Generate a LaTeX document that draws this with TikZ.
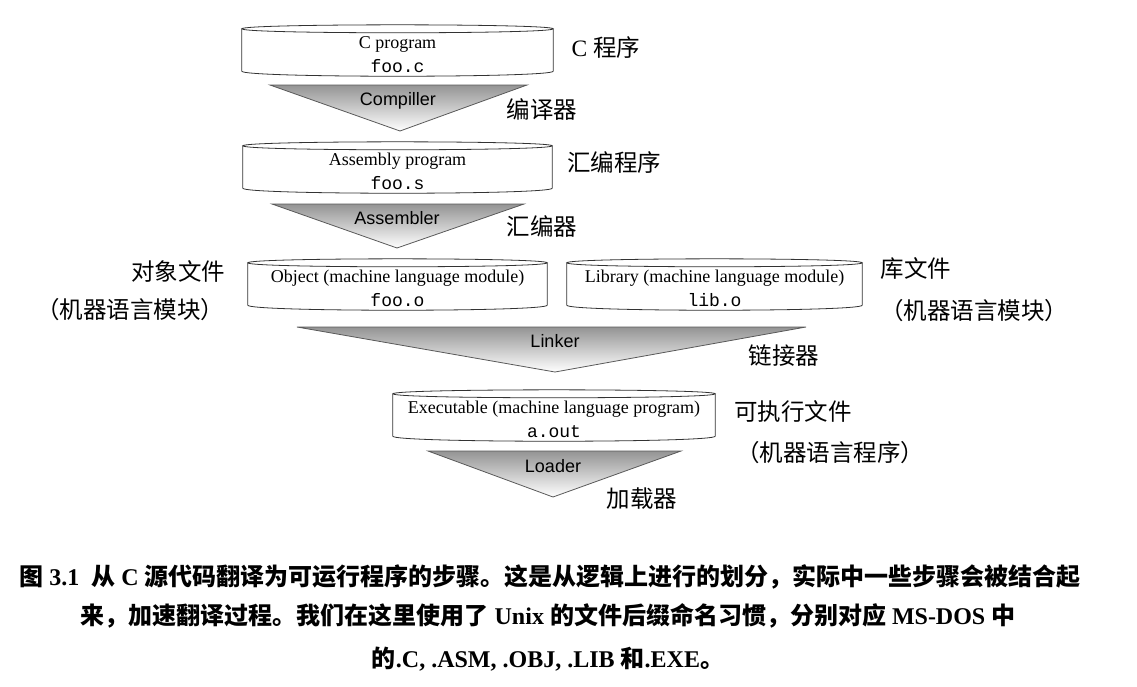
\documentclass[tikz,border=0pt]{standalone}
\usepackage{fontspec}
\setmainfont{Liberation Serif}
\setsansfont{Liberation Sans}
\setmonofont{Liberation Mono}
\newfontfamily\cjk{Noto Sans CJK SC}
\tikzset{
  cylbox/.style={inner sep=0pt, align=center, font=\fontsize{18}{24}\selectfont, minimum height=43pt},
  procline/.style={draw=black!80, line width=0.8pt},
  funnel/.style={draw=black!65, line width=0.8pt, top color=black!42, bottom color=white},
  toollabel/.style={font=\sffamily\fontsize{18}{20}\selectfont, inner sep=0pt},
  zh/.style={font=\cjk\fontsize{23.5}{26}\selectfont, inner sep=0pt},
  capline/.style={font=\bfseries\fontsize{24}{28}\selectfont, inner sep=0pt},
}
\newcommand\drawcyl[1]{%
  \draw[procline] ([yshift=4pt]#1.north west) -- ([yshift=5pt]#1.south west)
    .. controls ([yshift=-1.7pt]#1.south west) and ([yshift=-1.7pt]#1.south east) .. ([yshift=5pt]#1.south east)
    -- ([yshift=4pt]#1.north east);
  \draw[procline] ([yshift=4pt]#1.north west)
    .. controls ([yshift=9.3pt]#1.north west) and ([yshift=9.3pt]#1.north east) .. ([yshift=4pt]#1.north east)
    .. controls ([yshift=-1.3pt]#1.north east) and ([yshift=-1.3pt]#1.north west) .. cycle;
}
\begin{document}
\begin{tikzpicture}[x=1pt,y=-1pt]
\useasboundingbox (0,0) rectangle (1137,686);

% file cylinders
\node[cylbox, minimum width=311pt] (cprog) at (397.5,54.5) {C program\\\texttt{foo.c}};
\node[cylbox, minimum width=309pt] (asmprog) at (397.5,171.5) {Assembly program\\\texttt{foo.s}};
\node[cylbox, minimum width=299pt] (obj) at (397.5,288.5) {Object (machine language module)\\\texttt{foo.o}};
\node[cylbox, minimum width=295pt] (lib) at (714.5,288.5) {Library (machine language module)\\\texttt{lib.o}};
\node[cylbox, minimum width=322pt] (exe) at (554,419.5) {Executable (machine language program)\\\texttt{a.out}};
\drawcyl{cprog}
\drawcyl{asmprog}
\drawcyl{obj}
\drawcyl{lib}
\drawcyl{exe}

% funnels (tools)
\shadedraw[funnel] (270,85) -- (527,85) -- (400,131) -- cycle;
\shadedraw[funnel] (272,204) -- (524,204) -- (397,248) -- cycle;
\shadedraw[funnel] (297,327) -- (806,327) -- (555,372) -- cycle;
\shadedraw[funnel] (428,451) -- (681,451) -- (553,497) -- cycle;
\node[toollabel] (compiler) at (398,101) {Compiller};
\node[toollabel] (assembler) at (397,218) {Assembler};
\node[toollabel] (linker) at (555,341) {Linker};
\node[toollabel] (loader) at (553,466) {Loader};

% Chinese labels
\node[zh] (zcprog) at (606,48) {\rmfamily C {\cjk 程序}};
\node[zh] (zcomp) at (542,110) {编译器};
\node[zh] (zasmprog) at (614,163) {汇编程序};
\node[zh] (zasm) at (542,226) {汇编器};
\node[zh] (zobj) at (178,271) {对象文件};
\node[zh] (zobj2) at (130,310) {（机器语言模块）};
\node[zh] (zlib) at (916,269) {库文件};
\node[zh] (zlib2) at (974,311) {（机器语言模块）};
\node[zh] (zlink) at (784,356) {链接器};
\node[zh] (zexe) at (793,412) {可执行文件};
\node[zh] (zexe2) at (830,453) {（机器语言程序）};
\node[zh] (zload) at (642,499) {加载器};

% caption
\node[capline] (cap1) at (550,577) {{\cjk 图} 3.1\ \ {\cjk 从} C {\cjk 源代码翻译为可运行程序的步骤。这是从逻辑上进行的划分，实际中一些步骤会被结合起}};
\node[capline] (cap2) at (548,616) {{\cjk 来，加速翻译过程。我们在这里使用了} Unix {\cjk 的文件后缀命名习惯，分别对应} MS-DOS {\cjk 中}};
\node[capline] (cap3) at (548,659) {{\cjk 的}.C, .ASM, .OBJ, .LIB {\cjk 和}.EXE{\cjk 。}};
\end{tikzpicture}
\end{document}
